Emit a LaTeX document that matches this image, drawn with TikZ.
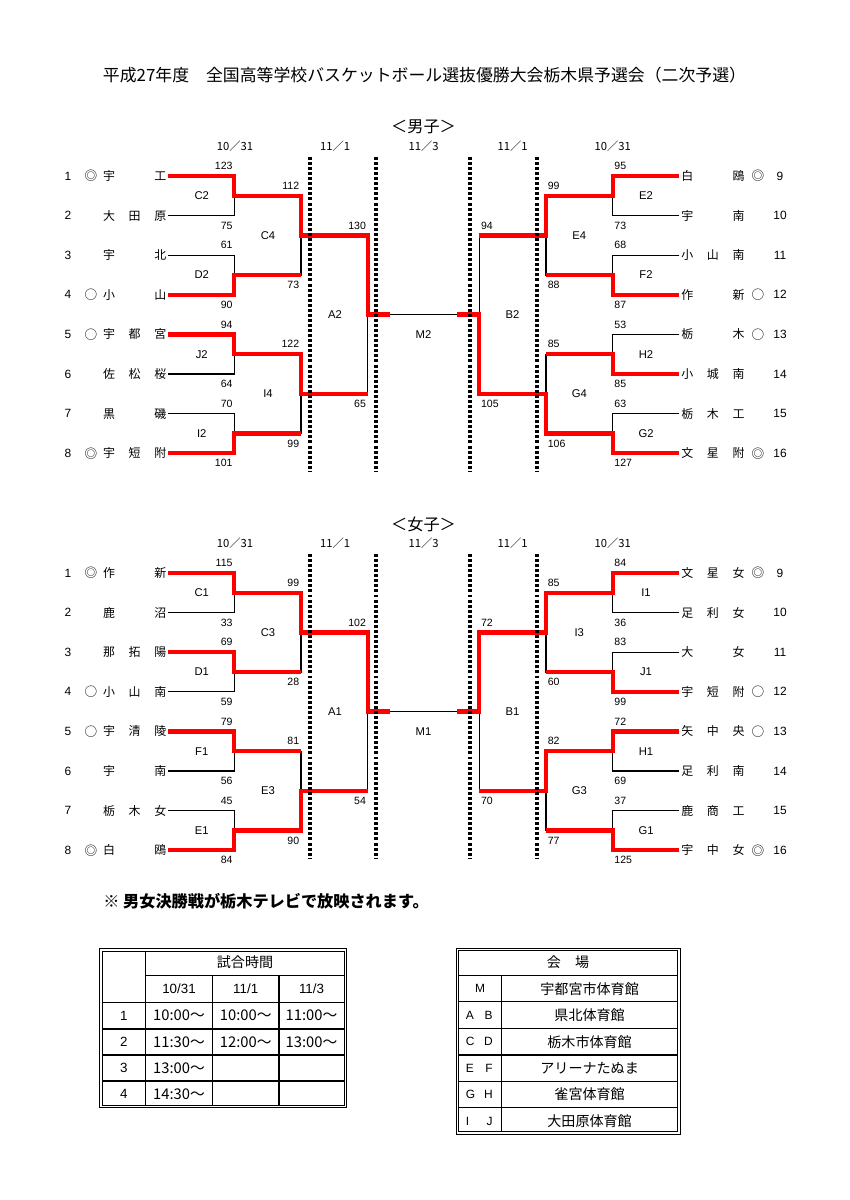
\documentclass[tikz,border=0pt]{standalone}
\usepackage{fontspec}
\setmainfont{Liberation Sans}
\newfontfamily\jp{Noto Sans CJK JP}
\usepackage{tikz}
\usetikzlibrary{calc}

\begin{document}
\begin{tikzpicture}[x=0.025cm,y=-0.025cm]
  \tikzset{teaml/.style={font=\jp\fontsize{8.5}{10}\selectfont,inner sep=0pt,outer sep=1.4pt,anchor=east}}
  \tikzset{teamr/.style={font=\jp\fontsize{8.5}{10}\selectfont,inner sep=0pt,outer sep=1.4pt,anchor=west}}
  \tikzset{seed/.style={font=\jp\fontsize{9}{10}\selectfont,inner sep=0pt}}
  \tikzset{teamno/.style={font=\fontsize{8.5}{9}\selectfont,inner sep=0pt}}
  \tikzset{scorel/.style={font=\fontsize{7.5}{9}\selectfont,inner sep=0pt,anchor=east}}
  \tikzset{scorer/.style={font=\fontsize{7.5}{9}\selectfont,inner sep=0pt,anchor=west}}
  \tikzset{matchlabel/.style={font=\fontsize{8}{9}\selectfont,inner sep=0pt}}
  \tikzset{datelabel/.style={font=\jp\fontsize{8}{9}\selectfont,inner sep=0pt}}
  \tikzset{sectiontitle/.style={font=\jp\fontsize{11.5}{13}\selectfont,inner sep=0pt}}
  \tikzset{lostline/.style={draw=black,line width=0.8pt}}
  \tikzset{wonline/.style={draw=red,line width=3pt,line join=miter}}
  \tikzset{daysep/.style={draw=black,line width=2.4pt,dash pattern=on 2.1pt off 1.5pt}}
  \tikzset{tableframe/.style={draw=black,line width=0.7pt}}
  \tikzset{tablegrid/.style={draw=black,line width=0.8pt}}
  \tikzset{cell/.style={font=\jp\fontsize{10}{12}\selectfont,inner sep=0pt}}
  \tikzset{timecell/.style={font=\jp\fontsize{10.5}{12}\selectfont,inner sep=0pt}}
  \tikzset{lettercell/.style={font=\fontsize{8.5}{10}\selectfont,inner sep=0pt}}

  \useasboundingbox (0,0) rectangle (849,1200);

  \node[font=\jp\fontsize{12}{14}\selectfont,inner sep=0pt] (title) at (424.5,75)
    {平成27年度　全国高等学校バスケットボール選抜優勝大会栃木県予選会（二次予選）};

  % boys
  \node[sectiontitle] (btitle) at (423.5,127) {＜男子＞};
  \node[datelabel] (bd1) at (235,146) {10／31};
  \node[datelabel] (bd2) at (335,146) {11／1};
  \node[datelabel] (bd3) at (423.5,146) {11／3};
  \node[datelabel] (bd4) at (512.5,146) {11／1};
  \node[datelabel] (bd5) at (612.7,146) {10／31};

  \node[teamno] (bn1) at (68,176) {1};
  \node[seed] (bs1) at (91,176) {◎};
  \node[teaml] (bt1) at (168.3,176) {\makebox[45pt][s]{宇\hfill 工}};
  \node[teamno] (bn2) at (68,215.6) {2};
  \node[teaml] (bt2) at (168.3,215.6) {\makebox[45pt][s]{大\hfill 田\hfill 原}};
  \node[teamno] (bn3) at (68,255.2) {3};
  \node[teaml] (bt3) at (168.3,255.2) {\makebox[45pt][s]{宇\hfill 北}};
  \node[teamno] (bn4) at (68,294.8) {4};
  \node[seed] (bs4) at (91,294.8) {○};
  \node[teaml] (bt4) at (168.3,294.8) {\makebox[45pt][s]{小\hfill 山}};
  \node[teamno] (bn5) at (68,334.4) {5};
  \node[seed] (bs5) at (91,334.4) {○};
  \node[teaml] (bt5) at (168.3,334.4) {\makebox[45pt][s]{宇\hfill 都\hfill 宮}};
  \node[teamno] (bn6) at (68,374) {6};
  \node[teaml] (bt6) at (168.3,374) {\makebox[45pt][s]{佐\hfill 松\hfill 桜}};
  \node[teamno] (bn7) at (68,413.6) {7};
  \node[teaml] (bt7) at (168.3,413.6) {\makebox[45pt][s]{黒\hfill 磯}};
  \node[teamno] (bn8) at (68,453.2) {8};
  \node[seed] (bs8) at (91,453.2) {◎};
  \node[teaml] (bt8) at (168.3,453.2) {\makebox[45pt][s]{宇\hfill 短\hfill 附}};

  \node[teamr] (bt9) at (679.3,176) {\makebox[45pt][s]{白\hfill 鴎}};
  \node[seed] (bs9) at (758,176) {◎};
  \node[teamno] (bn9) at (780,176) {9};
  \node[teamr] (bt10) at (679.3,215.6) {\makebox[45pt][s]{宇\hfill 南}};
  \node[teamno] (bn10) at (780,215.6) {10};
  \node[teamr] (bt11) at (679.3,255.2) {\makebox[45pt][s]{小\hfill 山\hfill 南}};
  \node[teamno] (bn11) at (780,255.2) {11};
  \node[teamr] (bt12) at (679.3,294.8) {\makebox[45pt][s]{作\hfill 新}};
  \node[seed] (bs12) at (758,294.8) {○};
  \node[teamno] (bn12) at (780,294.8) {12};
  \node[teamr] (bt13) at (679.3,334.4) {\makebox[45pt][s]{栃\hfill 木}};
  \node[seed] (bs13) at (758,334.4) {○};
  \node[teamno] (bn13) at (780,334.4) {13};
  \node[teamr] (bt14) at (679.3,374) {\makebox[45pt][s]{小\hfill 城\hfill 南}};
  \node[teamno] (bn14) at (780,374) {14};
  \node[teamr] (bt15) at (679.3,413.6) {\makebox[45pt][s]{栃\hfill 木\hfill 工}};
  \node[teamno] (bn15) at (780,413.6) {15};
  \node[teamr] (bt16) at (679.3,453.2) {\makebox[45pt][s]{文\hfill 星\hfill 附}};
  \node[seed] (bs16) at (758,453.2) {◎};
  \node[teamno] (bn16) at (780,453.2) {16};

  \coordinate (jC2) at (234.3,195.8);
  \coordinate (jD2) at (234.3,275);
  \coordinate (jJ2) at (234.3,354.2);
  \coordinate (jI2) at (234.3,433.4);
  \coordinate (jC4) at (301,235.4);
  \coordinate (jI4) at (301,393.8);
  \coordinate (jA2) at (367.7,314.6);
  \coordinate (M2w) at (390,314.6);
  \coordinate (jE2) at (612.7,195.8);
  \coordinate (jF2) at (612.7,275);
  \coordinate (jH2) at (612.7,354.2);
  \coordinate (jG2) at (612.7,433.4);
  \coordinate (jE4) at (546,235.4);
  \coordinate (jG4) at (546,393.8);
  \coordinate (jB2) at (479.3,314.6);
  \coordinate (M2e) at (456.7,314.6);

  \draw[lostline] (bt1.east) -| (jC2) |- (bt2.east);
  \draw[lostline] (bt3.east) -| (jD2) |- (bt4.east);
  \draw[lostline] (bt5.east) -| (jJ2) |- (bt6.east);
  \draw[lostline] (bt7.east) -| (jI2) |- (bt8.east);
  \draw[lostline] (jC2) -| (jC4) |- (jD2);
  \draw[lostline] (jJ2) -| (jI4) |- (jI2);
  \draw[lostline] (jC4) -| (jA2) |- (jI4);
  \draw[lostline] (jA2) -- (jB2);
  \draw[lostline] (bt9.west) -| (jE2) |- (bt10.west);
  \draw[lostline] (bt11.west) -| (jF2) |- (bt12.west);
  \draw[lostline] (bt13.west) -| (jH2) |- (bt14.west);
  \draw[lostline] (bt15.west) -| (jG2) |- (bt16.west);
  \draw[lostline] (jE2) -| (jE4) |- (jF2);
  \draw[lostline] (jH2) -| (jG4) |- (jG2);
  \draw[lostline] (jE4) -| (jB2) |- (jG4);

  \draw[wonline] (bt1.east) -| (jC2) -| (jC4) -| (jA2) -- (M2w);
  \draw[wonline] (bt4.east) -| (jD2) -- (jD2 -| jC4);
  \draw[wonline] (bt5.east) -| (jJ2) -| (jI4) -- (jI4 -| jA2);
  \draw[wonline] (bt8.east) -| (jI2) -- (jI2 -| jI4);
  \draw[wonline] (bt9.west) -| (jE2) -| (jE4) -- (jE4 -| jB2);
  \draw[wonline] (bt12.west) -| (jF2) -- (jF2 -| jE4);
  \draw[wonline] (bt14.west) -| (jH2) -- (jH2 -| jG4);
  \draw[wonline] (bt16.west) -| (jG2) -| (jG4) -| (jB2) -- (M2e);

  \draw[daysep] (310,157) -- (310,472);
  \draw[daysep] (376,157) -- (376,472);
  \draw[daysep] (470,157) -- (470,472);
  \draw[daysep] (537,157) -- (537,472);

  \node[matchlabel] (C2) at (201.7,195.8) {C2};
  \node[matchlabel] (D2) at (201.7,275) {D2};
  \node[matchlabel] (J2) at (201.7,354.2) {J2};
  \node[matchlabel] (I2) at (201.7,433.4) {I2};
  \node[matchlabel] (C4) at (268,235.4) {C4};
  \node[matchlabel] (I4) at (268,393.8) {I4};
  \node[matchlabel] (A2) at (335,314.6) {A2};
  \node[matchlabel] (M2) at (423.5,334.6) {M2};
  \node[matchlabel] (B2) at (512.5,314.6) {B2};
  \node[matchlabel] (E4) at (579.3,235.4) {E4};
  \node[matchlabel] (G4) at (579.3,393.8) {G4};
  \node[matchlabel] (E2) at (646,195.8) {E2};
  \node[matchlabel] (F2) at (646,275) {F2};
  \node[matchlabel] (H2) at (646,354.2) {H2};
  \node[matchlabel] (G2) at (646,433.4) {G2};

  \node[scorel] (C2a) at (232.8,166) {123};
  \node[scorel] (C2b) at (232.8,225.6) {75};
  \node[scorel] (D2a) at (232.8,245.2) {61};
  \node[scorel] (D2b) at (232.8,304.8) {90};
  \node[scorel] (J2a) at (232.8,324.4) {94};
  \node[scorel] (J2b) at (232.8,384) {64};
  \node[scorel] (I2a) at (232.8,403.6) {70};
  \node[scorel] (I2b) at (232.8,463.2) {101};
  \node[scorel] (C4a) at (299.5,185.8) {112};
  \node[scorel] (C4b) at (299.5,285) {73};
  \node[scorel] (I4a) at (299.5,344.2) {122};
  \node[scorel] (I4b) at (299.5,443.4) {99};
  \node[scorel] (A2a) at (366.2,225.4) {130};
  \node[scorel] (A2b) at (366.2,403.8) {65};
  \node[scorer] (E2a) at (614.2,166) {95};
  \node[scorer] (E2b) at (614.2,225.6) {73};
  \node[scorer] (F2a) at (614.2,245.2) {68};
  \node[scorer] (F2b) at (614.2,304.8) {87};
  \node[scorer] (H2a) at (614.2,324.4) {53};
  \node[scorer] (H2b) at (614.2,384) {85};
  \node[scorer] (G2a) at (614.2,403.6) {63};
  \node[scorer] (G2b) at (614.2,463.2) {127};
  \node[scorer] (E4a) at (547.5,185.8) {99};
  \node[scorer] (E4b) at (547.5,285) {88};
  \node[scorer] (G4a) at (547.5,344.2) {85};
  \node[scorer] (G4b) at (547.5,443.4) {106};
  \node[scorer] (B2a) at (480.8,225.4) {94};
  \node[scorer] (B2b) at (480.8,403.8) {105};

  % girls
  \begin{scope}[shift={(0,397)}]
  \node[sectiontitle] (gtitle) at (423.5,127) {＜女子＞};
  \node[datelabel] (gd1) at (235,146) {10／31};
  \node[datelabel] (gd2) at (335,146) {11／1};
  \node[datelabel] (gd3) at (423.5,146) {11／3};
  \node[datelabel] (gd4) at (512.5,146) {11／1};
  \node[datelabel] (gd5) at (612.7,146) {10／31};

  \node[teamno] (gn1) at (68,176) {1};
  \node[seed] (gs1) at (91,176) {◎};
  \node[teaml] (gt1) at (168.3,176) {\makebox[45pt][s]{作\hfill 新}};
  \node[teamno] (gn2) at (68,215.6) {2};
  \node[teaml] (gt2) at (168.3,215.6) {\makebox[45pt][s]{鹿\hfill 沼}};
  \node[teamno] (gn3) at (68,255.2) {3};
  \node[teaml] (gt3) at (168.3,255.2) {\makebox[45pt][s]{那\hfill 拓\hfill 陽}};
  \node[teamno] (gn4) at (68,294.8) {4};
  \node[seed] (gs4) at (91,294.8) {○};
  \node[teaml] (gt4) at (168.3,294.8) {\makebox[45pt][s]{小\hfill 山\hfill 南}};
  \node[teamno] (gn5) at (68,334.4) {5};
  \node[seed] (gs5) at (91,334.4) {○};
  \node[teaml] (gt5) at (168.3,334.4) {\makebox[45pt][s]{宇\hfill 清\hfill 陵}};
  \node[teamno] (gn6) at (68,374) {6};
  \node[teaml] (gt6) at (168.3,374) {\makebox[45pt][s]{宇\hfill 南}};
  \node[teamno] (gn7) at (68,413.6) {7};
  \node[teaml] (gt7) at (168.3,413.6) {\makebox[45pt][s]{栃\hfill 木\hfill 女}};
  \node[teamno] (gn8) at (68,453.2) {8};
  \node[seed] (gs8) at (91,453.2) {◎};
  \node[teaml] (gt8) at (168.3,453.2) {\makebox[45pt][s]{白\hfill 鴎}};

  \node[teamr] (gt9) at (679.3,176) {\makebox[45pt][s]{文\hfill 星\hfill 女}};
  \node[seed] (gs9) at (758,176) {◎};
  \node[teamno] (gn9) at (780,176) {9};
  \node[teamr] (gt10) at (679.3,215.6) {\makebox[45pt][s]{足\hfill 利\hfill 女}};
  \node[teamno] (gn10) at (780,215.6) {10};
  \node[teamr] (gt11) at (679.3,255.2) {\makebox[45pt][s]{大\hfill 女}};
  \node[teamno] (gn11) at (780,255.2) {11};
  \node[teamr] (gt12) at (679.3,294.8) {\makebox[45pt][s]{宇\hfill 短\hfill 附}};
  \node[seed] (gs12) at (758,294.8) {○};
  \node[teamno] (gn12) at (780,294.8) {12};
  \node[teamr] (gt13) at (679.3,334.4) {\makebox[45pt][s]{矢\hfill 中\hfill 央}};
  \node[seed] (gs13) at (758,334.4) {○};
  \node[teamno] (gn13) at (780,334.4) {13};
  \node[teamr] (gt14) at (679.3,374) {\makebox[45pt][s]{足\hfill 利\hfill 南}};
  \node[teamno] (gn14) at (780,374) {14};
  \node[teamr] (gt15) at (679.3,413.6) {\makebox[45pt][s]{鹿\hfill 商\hfill 工}};
  \node[teamno] (gn15) at (780,413.6) {15};
  \node[teamr] (gt16) at (679.3,453.2) {\makebox[45pt][s]{宇\hfill 中\hfill 女}};
  \node[seed] (gs16) at (758,453.2) {◎};
  \node[teamno] (gn16) at (780,453.2) {16};

  \coordinate (jC1) at (234.3,195.8);
  \coordinate (jD1) at (234.3,275);
  \coordinate (jF1) at (234.3,354.2);
  \coordinate (jE1) at (234.3,433.4);
  \coordinate (jC3) at (301,235.4);
  \coordinate (jE3) at (301,393.8);
  \coordinate (jA1) at (367.7,314.6);
  \coordinate (M1w) at (390,314.6);
  \coordinate (jI1) at (612.7,195.8);
  \coordinate (jJ1) at (612.7,275);
  \coordinate (jH1) at (612.7,354.2);
  \coordinate (jG1) at (612.7,433.4);
  \coordinate (jI3) at (546,235.4);
  \coordinate (jG3) at (546,393.8);
  \coordinate (jB1) at (479.3,314.6);
  \coordinate (M1e) at (456.7,314.6);

  \draw[lostline] (gt1.east) -| (jC1) |- (gt2.east);
  \draw[lostline] (gt3.east) -| (jD1) |- (gt4.east);
  \draw[lostline] (gt5.east) -| (jF1) |- (gt6.east);
  \draw[lostline] (gt7.east) -| (jE1) |- (gt8.east);
  \draw[lostline] (jC1) -| (jC3) |- (jD1);
  \draw[lostline] (jF1) -| (jE3) |- (jE1);
  \draw[lostline] (jC3) -| (jA1) |- (jE3);
  \draw[lostline] (jA1) -- (jB1);
  \draw[lostline] (gt9.west) -| (jI1) |- (gt10.west);
  \draw[lostline] (gt11.west) -| (jJ1) |- (gt12.west);
  \draw[lostline] (gt13.west) -| (jH1) |- (gt14.west);
  \draw[lostline] (gt15.west) -| (jG1) |- (gt16.west);
  \draw[lostline] (jI1) -| (jI3) |- (jJ1);
  \draw[lostline] (jH1) -| (jG3) |- (jG1);
  \draw[lostline] (jI3) -| (jB1) |- (jG3);

  \draw[wonline] (gt1.east) -| (jC1) -| (jC3) -| (jA1) -- (M1w);
  \draw[wonline] (gt3.east) -| (jD1) -- (jD1 -| jC3);
  \draw[wonline] (gt5.east) -| (jF1) -- (jF1 -| jE3);
  \draw[wonline] (gt8.east) -| (jE1) -| (jE3) -- (jE3 -| jA1);
  \draw[wonline] (gt9.west) -| (jI1) -| (jI3) -| (jB1) -- (M1e);
  \draw[wonline] (gt12.west) -| (jJ1) -- (jJ1 -| jI3);
  \draw[wonline] (gt13.west) -| (jH1) -| (jG3) -- (jG3 -| jB1);
  \draw[wonline] (gt16.west) -| (jG1) -- (jG1 -| jG3);

  \draw[daysep] (310,157) -- (310,461);
  \draw[daysep] (376,157) -- (376,461);
  \draw[daysep] (470,157) -- (470,461);
  \draw[daysep] (537,157) -- (537,461);

  \node[matchlabel] (C1) at (201.7,195.8) {C1};
  \node[matchlabel] (D1) at (201.7,275) {D1};
  \node[matchlabel] (F1) at (201.7,354.2) {F1};
  \node[matchlabel] (E1) at (201.7,433.4) {E1};
  \node[matchlabel] (C3) at (268,235.4) {C3};
  \node[matchlabel] (E3) at (268,393.8) {E3};
  \node[matchlabel] (A1) at (335,314.6) {A1};
  \node[matchlabel] (M1) at (423.5,334.6) {M1};
  \node[matchlabel] (B1) at (512.5,314.6) {B1};
  \node[matchlabel] (I3) at (579.3,235.4) {I3};
  \node[matchlabel] (G3) at (579.3,393.8) {G3};
  \node[matchlabel] (I1) at (646,195.8) {I1};
  \node[matchlabel] (J1) at (646,275) {J1};
  \node[matchlabel] (H1) at (646,354.2) {H1};
  \node[matchlabel] (G1) at (646,433.4) {G1};

  \node[scorel] (C1a) at (232.8,166) {115};
  \node[scorel] (C1b) at (232.8,225.6) {33};
  \node[scorel] (D1a) at (232.8,245.2) {69};
  \node[scorel] (D1b) at (232.8,304.8) {59};
  \node[scorel] (F1a) at (232.8,324.4) {79};
  \node[scorel] (F1b) at (232.8,384) {56};
  \node[scorel] (E1a) at (232.8,403.6) {45};
  \node[scorel] (E1b) at (232.8,463.2) {84};
  \node[scorel] (C3a) at (299.5,185.8) {99};
  \node[scorel] (C3b) at (299.5,285) {28};
  \node[scorel] (E3a) at (299.5,344.2) {81};
  \node[scorel] (E3b) at (299.5,443.4) {90};
  \node[scorel] (A1a) at (366.2,225.4) {102};
  \node[scorel] (A1b) at (366.2,403.8) {54};
  \node[scorer] (I1a) at (614.2,166) {84};
  \node[scorer] (I1b) at (614.2,225.6) {36};
  \node[scorer] (J1a) at (614.2,245.2) {83};
  \node[scorer] (J1b) at (614.2,304.8) {99};
  \node[scorer] (H1a) at (614.2,324.4) {72};
  \node[scorer] (H1b) at (614.2,384) {69};
  \node[scorer] (G1a) at (614.2,403.6) {37};
  \node[scorer] (G1b) at (614.2,463.2) {125};
  \node[scorer] (I3a) at (547.5,185.8) {85};
  \node[scorer] (I3b) at (547.5,285) {60};
  \node[scorer] (G3a) at (547.5,344.2) {82};
  \node[scorer] (G3b) at (547.5,443.4) {77};
  \node[scorer] (B1a) at (480.8,225.4) {72};
  \node[scorer] (B1b) at (480.8,403.8) {70};
  \end{scope}

  \node[font=\jp\bfseries\fontsize{11.5}{13}\selectfont,inner sep=0pt,anchor=west] (note) at (103,901)
    {※ 男女決勝戦が栃木テレビで放映されます。};

  % match times
  \draw[tableframe] (99.5,948.5) rectangle (346.5,1107.5);
  \draw[tableframe] (102,951) rectangle (344,1105);
  \draw[tablegrid] (145.7,951) -- (145.7,1105);
  \draw[tablegrid] (212.3,975.7) -- (212.3,1105);
  \draw[tablegrid] (279,975.7) -- (279,1105);
  \draw[tablegrid] (145.7,975.7) -- (344,975.7);
  \draw[tablegrid] (102,1002.3) -- (344,1002.3);
  \draw[tablegrid] (102,1029) -- (344,1029);
  \draw[tablegrid] (102,1055) -- (344,1055);
  \draw[tablegrid] (102,1081) -- (344,1081);
  \node[cell] (tmhead) at (245,962.5) {試合時間};
  \node[lettercell,font=\fontsize{9.5}{11}\selectfont] (tmd1) at (179,989) {10/31};
  \node[lettercell,font=\fontsize{9.5}{11}\selectfont] (tmd2) at (245.7,989) {11/1};
  \node[lettercell,font=\fontsize{9.5}{11}\selectfont] (tmd3) at (311.5,989) {11/3};
  \node[lettercell,font=\fontsize{9.5}{11}\selectfont] (tmr1) at (123.9,1015.7) {1};
  \node[lettercell,font=\fontsize{9.5}{11}\selectfont] (tmr2) at (123.9,1042) {2};
  \node[lettercell,font=\fontsize{9.5}{11}\selectfont] (tmr3) at (123.9,1068) {3};
  \node[lettercell,font=\fontsize{9.5}{11}\selectfont] (tmr4) at (123.9,1094) {4};
  \node[timecell] (tm11) at (179,1015.7) {10:00～};
  \node[timecell] (tm12) at (245.7,1015.7) {10:00～};
  \node[timecell] (tm13) at (311.5,1015.7) {11:00～};
  \node[timecell] (tm21) at (179,1042) {11:30～};
  \node[timecell] (tm22) at (245.7,1042) {12:00～};
  \node[timecell] (tm23) at (311.5,1042) {13:00～};
  \node[timecell] (tm31) at (179,1068) {13:00～};
  \node[timecell] (tm41) at (179,1094) {14:30～};

  % venues
  \draw[tableframe] (456,948.3) rectangle (680,1134.3);
  \draw[tableframe] (458.4,950.7) rectangle (677.6,1131.9);
  \draw[tablegrid] (501.7,975.7) -- (501.7,1131.9);
  \draw[tablegrid] (458.4,975.7) -- (677.6,975.7);
  \draw[tablegrid] (458.4,1001.7) -- (677.6,1001.7);
  \draw[tablegrid] (458.4,1028.3) -- (677.6,1028.3);
  \draw[tablegrid] (458.4,1055) -- (677.6,1055);
  \draw[tablegrid] (458.4,1081.5) -- (677.6,1081.5);
  \draw[tablegrid] (458.4,1107.5) -- (677.6,1107.5);
  \node[cell] (vnhead) at (568,962) {会　場};
  \node[lettercell] (vnk1) at (480,988.7) {M};
  \node[cell] (vn1) at (589.6,988.7) {宇都宮市体育館};
  \node[lettercell] (vnk2) at (479.3,1015) {\makebox[19pt][s]{A\hfill B}};
  \node[cell] (vn2) at (589.6,1015) {県北体育館};
  \node[lettercell] (vnk3) at (479.3,1041.7) {\makebox[19pt][s]{C\hfill D}};
  \node[cell] (vn3) at (589.6,1041.7) {栃木市体育館};
  \node[lettercell] (vnk4) at (479.3,1068.3) {\makebox[19pt][s]{E\hfill F}};
  \node[cell] (vn4) at (589.6,1068.3) {アリーナたぬま};
  \node[lettercell] (vnk5) at (479.3,1094.5) {\makebox[19pt][s]{G\hfill H}};
  \node[cell] (vn5) at (589.6,1094.5) {雀宮体育館};
  \node[lettercell] (vnk6) at (479.3,1121) {\makebox[19pt][s]{I\hfill J}};
  \node[cell] (vn6) at (589.6,1121) {大田原体育館};
\end{tikzpicture}
\end{document}
